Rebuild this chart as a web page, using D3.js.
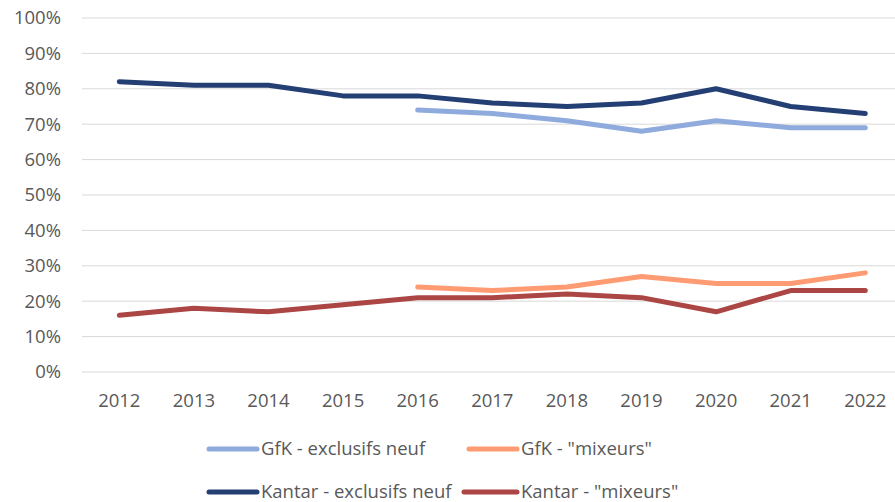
<!DOCTYPE html>
<html>
<head>
<meta charset="utf-8">
<script src="https://cdn.jsdelivr.net/npm/d3@7"></script>
<style>
  body { margin: 0; background: #fff; }
  svg { font-family: "Open Sans", "Liberation Sans", sans-serif; }
</style>
</head>
<body>
<div class="canvas"></div>
<script>
// Data
const years = ['2012', '2013', '2014', '2015', '2016', '2017', '2018', '2019', '2020', '2021', '2022']
const gfkExclusifs = [null, null, null, null, 74, 73, 71, 68, 71, 69, 69]
const gfkMixeurs = [null, null, null, null, 24, 23, 24, 27, 25, 25, 28]
const kantarExclusifs = [82, 81, 81, 78, 78, 76, 75, 76, 80, 75, 73]
const kantarMixeurs = [16, 18, 17, 19, 21, 21, 22, 21, 17, 23, 23]
const yTicks = [0, 10, 20, 30, 40, 50, 60, 70, 80, 90, 100]

const series = [
  {name: 'GfK - exclusifs neuf', values: gfkExclusifs, color: '#8faadc'},
  {name: 'GfK - "mixeurs"', values: gfkMixeurs, color: '#ff9b72'},
  {name: 'Kantar - exclusifs neuf', values: kantarExclusifs, color: '#243f73'},
  {name: 'Kantar - "mixeurs"', values: kantarMixeurs, color: '#ab4644'}
]

const width = 895
const height = 502
const margin = {top: 18, right: 0, left: 82, bottom: 130}

const svg = d3.select('.canvas')
  .append('svg')
    .attr('width', width)
    .attr('height', height)

// Scales
const x = d3.scaleBand()
  .domain(years)
  .range([margin.left, margin.left + 74.6 * years.length])

const y = d3.scaleLinear()
  .domain([0, 100])
  .range([372, margin.top])

// Gridlines
svg.append('g')
  .selectAll('line')
  .data(yTicks)
  .enter()
  .append('line')
    .attr('x1', margin.left)
    .attr('x2', width)
    .attr('y1', (d) => y(d))
    .attr('y2', (d) => y(d))
    .attr('stroke', '#d9d9d9')
    .attr('stroke-width', 1)

// Y axis labels
svg.append('g')
  .selectAll('text')
  .data(yTicks)
  .enter()
  .append('text')
    .attr('x', 61)
    .attr('y', (d) => y(d))
    .attr('dy', '0.35em')
    .attr('text-anchor', 'end')
    .attr('font-size', 18.5)
    .attr('fill', '#595959')
    .text((d) => d + '%')

// X axis labels
svg.append('g')
  .selectAll('text')
  .data(years)
  .enter()
  .append('text')
    .attr('x', (d) => x(d) + x.bandwidth() / 2)
    .attr('y', 401)
    .attr('dy', '0.35em')
    .attr('text-anchor', 'middle')
    .attr('font-size', 18.5)
    .attr('fill', '#595959')
    .text((d) => d)

// Lines
const line = d3.line()
  .defined((d) => d != null)
  .x((d, i) => x(years[i]) + x.bandwidth() / 2)
  .y((d) => y(d))

svg.append('g')
  .selectAll('path')
  .data(series)
  .enter()
  .append('path')
    .attr('d', (s) => line(s.values))
    .attr('fill', 'none')
    .attr('stroke', (s) => s.color)
    .attr('stroke-width', 5)
    .attr('stroke-linejoin', 'round')
    .attr('stroke-linecap', 'round')

// Legend
const legendPos = [[207, 449], [467, 449], [207, 492], [462, 492]]
const legend = svg.append('g')
  .selectAll('g')
  .data(series)
  .enter()
  .append('g')
    .attr('transform', (d, i) => `translate(${legendPos[i][0]},${legendPos[i][1]})`)

legend.append('line')
  .attr('x1', 2)
  .attr('x2', (d, i) => i === 3 ? 55 : 50)
  .attr('stroke', (d) => d.color)
  .attr('stroke-width', 5)
  .attr('stroke-linecap', 'round')

legend.append('text')
  .attr('x', (d, i) => i === 3 ? 59 : 54)
  .attr('dy', '0.35em')
  .attr('font-size', 18.5)
  .attr('fill', '#595959')
  .text((d) => d.name)
</script>
</body>
</html>
